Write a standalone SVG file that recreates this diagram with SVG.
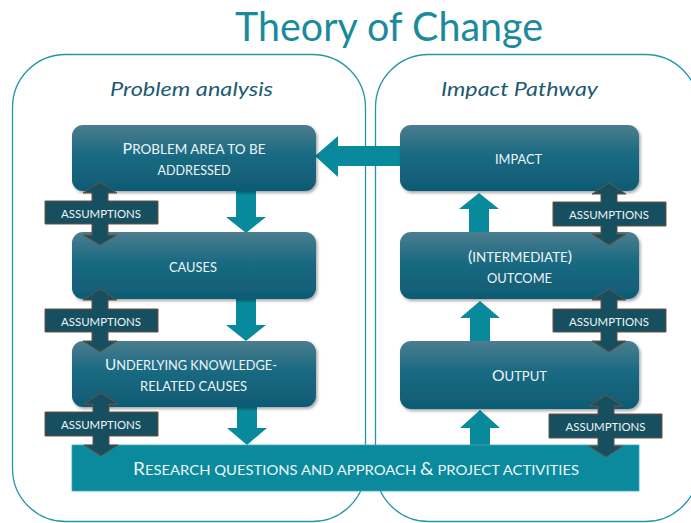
<svg xmlns="http://www.w3.org/2000/svg" width="691" height="523" viewBox="0 0 691 523">
<defs>
<linearGradient id="boxg" x1="0" y1="0" x2="0" y2="1">
<stop offset="0" stop-color="#4c7d8f"/>
<stop offset="0.45" stop-color="#1a6a82"/>
<stop offset="1" stop-color="#0f5b74"/>
</linearGradient>
<filter id="sh" x="-10%" y="-10%" width="125%" height="130%">
<feDropShadow dx="1.5" dy="2" stdDeviation="1.8" flood-color="#000" flood-opacity="0.35"/>
</filter>
<style>
.panel{fill:none;stroke:#2496a7;stroke-width:1.3}
.box{fill:url(#boxg);filter:url(#sh)}
.bt{font-family:Lato,"Open Sans","Liberation Sans",sans-serif;fill:#eef5f7;text-anchor:middle;font-size:12.5px}
.big{font-size:15px}
.flow{fill:#088a9c}
.asm{fill:#164f5f;stroke:#6e5140;stroke-width:1}
.at{font-family:Lato,"Open Sans","Liberation Sans",sans-serif;fill:#eef5f7;text-anchor:middle;font-size:11.5px}
.hd{font-family:Lato,"Open Sans","Liberation Sans",sans-serif;font-style:italic;fill:#1d5a72;font-size:19px;text-anchor:middle}
</style>
</defs>
<rect width="691" height="523" fill="#ffffff"/>
<text x="389" y="41" font-family="Lato,'Open Sans','Liberation Sans',sans-serif" font-size="40" fill="#1b8b9c" text-anchor="middle" textLength="308" lengthAdjust="spacingAndGlyphs">Theory of Change</text>

<g id="panel-left">
<rect class="panel" x="12.5" y="54.5" width="353" height="467" rx="53" ry="53"/>
<text class="hd" x="191.5" y="96" textLength="163" lengthAdjust="spacingAndGlyphs">Problem analysis</text>
</g>
<g id="panel-right">
<rect class="panel" x="375.5" y="54.5" width="323" height="467" rx="53" ry="53"/>
<text class="hd" x="519.5" y="96" textLength="157" lengthAdjust="spacingAndGlyphs">Impact Pathway</text>
</g>

<g id="connectors">
<polygon class="flow" points="400,146 338,146 338,136 315,156 338,177 338,166 400,166"/>
<polygon class="flow" points="236,191 256,191 256,217 266,217 246,233 226,217 236,217"/>
<polygon class="flow" points="236,299 256,299 256,325 266,325 246,341 226,325 236,325"/>
<polygon class="flow" points="237,407 257,407 257,428 267,428 247,445 227,428 237,428"/>
<polygon class="flow" points="470,445 490,445 490,428 500,428 480,410 460,428 470,428"/>
<polygon class="flow" points="470,341 490,341 490,318 500,318 480,301 460,318 470,318"/>
<polygon class="flow" points="469,232 489,232 489,209 499,209 479,193 459,209 469,209"/>
</g>

<g id="node-problem">
<rect class="box" x="72" y="125" width="244" height="66" rx="11"/>
<text class="bt" x="194" y="154" textLength="143" lengthAdjust="spacingAndGlyphs"><tspan class="big">P</tspan>ROBLEM AREA TO BE</text>
<text class="bt" x="194" y="175" textLength="73" lengthAdjust="spacingAndGlyphs">ADDRESSED</text>
</g>
<g id="node-causes">
<rect class="box" x="72" y="232" width="244" height="67" rx="11"/>
<text class="bt" x="193" y="272" textLength="48" lengthAdjust="spacingAndGlyphs">CAUSES</text>
</g>
<g id="node-underlying">
<rect class="box" x="72" y="341" width="244" height="66" rx="11"/>
<text class="bt" x="191" y="370" textLength="172" lengthAdjust="spacingAndGlyphs"><tspan class="big">U</tspan>NDERLYING KNOWLEDGE-</text>
<text class="bt" x="193.5" y="391" textLength="107" lengthAdjust="spacingAndGlyphs">RELATED CAUSES</text>
</g>
<g id="node-impact">
<rect class="box" x="400" y="125" width="239" height="66" rx="11"/>
<text class="bt" x="518.5" y="164" textLength="47" lengthAdjust="spacingAndGlyphs">IMPACT</text>
</g>
<g id="node-outcome">
<rect class="box" x="400" y="232" width="239" height="67" rx="11"/>
<text class="bt" x="520" y="262" textLength="104" lengthAdjust="spacingAndGlyphs"><tspan class="big">(</tspan>INTERMEDIATE<tspan class="big">)</tspan></text>
<text class="bt" x="519.5" y="283" textLength="65" lengthAdjust="spacingAndGlyphs">OUTCOME</text>
</g>
<g id="node-output">
<rect class="box" x="400" y="341" width="239" height="68" rx="11"/>
<text class="bt" x="519.5" y="381" textLength="55" lengthAdjust="spacingAndGlyphs"><tspan class="big">O</tspan>UTPUT</text>
</g>
<g id="node-research">
<rect x="72" y="445" width="567" height="46" fill="#0a8a9c" stroke="#3fa9b7" stroke-width="0.8"/>
<text x="356" y="475" font-family="Lato,'Open Sans','Liberation Sans',sans-serif" font-size="14" fill="#eef6f8" text-anchor="middle" textLength="446" lengthAdjust="spacingAndGlyphs"><tspan font-size="18">R</tspan>ESEARCH QUESTIONS AND APPROACH <tspan font-size="18">&amp;</tspan> PROJECT ACTIVITIES</text>
</g>

<g id="assumption-l1">
<path class="asm" d="M100,182 L117,193 L108,193 L108,201 L158,201 L158,224 L108,224 L108,235 L117,235 L100,245 L83,235 L92,235 L92,224 L45,224 L45,201 L92,201 L92,193 L83,193 Z"/>
<text class="at" x="101" y="218" textLength="80" lengthAdjust="spacingAndGlyphs">ASSUMPTIONS</text>
</g>
<g id="assumption-l2">
<path class="asm" d="M100,289 L117,300 L108,300 L108,309 L158,309 L158,332 L108,332 L108,341 L117,341 L100,352 L83,341 L92,341 L92,332 L45,332 L45,309 L92,309 L92,300 L83,300 Z"/>
<text class="at" x="101" y="325.5" textLength="80" lengthAdjust="spacingAndGlyphs">ASSUMPTIONS</text>
</g>
<g id="assumption-l3">
<path class="asm" d="M101,393 L118,404 L109,404 L109,412 L158,412 L158,436 L109,436 L109,445 L118,445 L101,456 L84,445 L93,445 L93,436 L45,436 L45,412 L93,412 L93,404 L84,404 Z"/>
<text class="at" x="101" y="429" textLength="80" lengthAdjust="spacingAndGlyphs">ASSUMPTIONS</text>
</g>
<g id="assumption-r1">
<path class="asm" d="M609,183 L626,194 L617,194 L617,202 L666,202 L666,226 L617,226 L617,234 L626,234 L609,245 L592,234 L601,234 L601,226 L553,226 L553,202 L601,202 L601,194 L592,194 Z"/>
<text class="at" x="609" y="219" textLength="80" lengthAdjust="spacingAndGlyphs">ASSUMPTIONS</text>
</g>
<g id="assumption-r2">
<path class="asm" d="M609,289 L626,300 L617,300 L617,309 L666,309 L666,332 L617,332 L617,341 L626,341 L609,352 L592,341 L601,341 L601,332 L553,332 L553,309 L601,309 L601,300 L592,300 Z"/>
<text class="at" x="609" y="325.5" textLength="80" lengthAdjust="spacingAndGlyphs">ASSUMPTIONS</text>
</g>
<g id="assumption-r3">
<path class="asm" d="M606,395 L623,406 L614,406 L614,414 L662,414 L662,438 L614,438 L614,446 L623,446 L606,457 L589,446 L598,446 L598,438 L549,438 L549,414 L598,414 L598,406 L589,406 Z"/>
<text class="at" x="605.5" y="431" textLength="80" lengthAdjust="spacingAndGlyphs">ASSUMPTIONS</text>
</g>
</svg>
